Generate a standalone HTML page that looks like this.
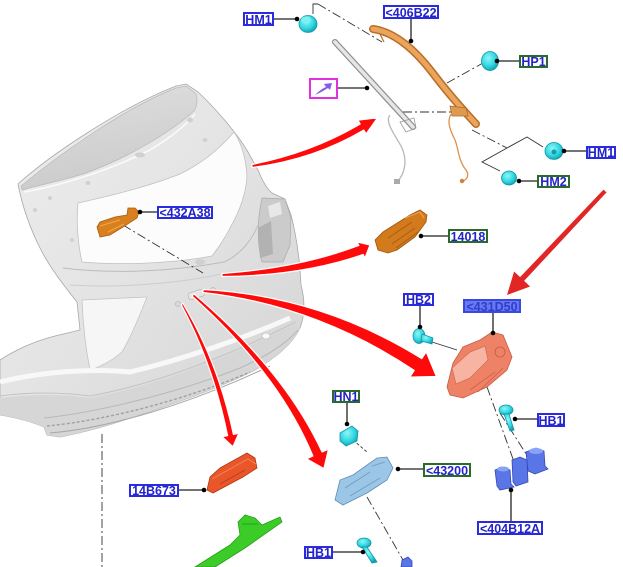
<!DOCTYPE html>
<html><head><meta charset="utf-8"><style>
html,body{margin:0;padding:0;background:#fff;}
svg{display:block;}
text{font-family:"Liberation Sans",Arial,sans-serif;font-weight:bold;font-size:12.5px;fill:#2323c8;text-anchor:middle;}
</style></head><body>
<svg width="623" height="567" viewBox="0 0 623 567" xmlns="http://www.w3.org/2000/svg">
<defs>
<linearGradient id="gBody" x1="0" y1="0" x2="1" y2="1">
<stop offset="0" stop-color="#eeeeee"/><stop offset="0.5" stop-color="#e3e3e3"/><stop offset="1" stop-color="#d3d3d3"/>
</linearGradient>
<linearGradient id="gGlass" x1="0" y1="0" x2="0.3" y2="1">
<stop offset="0" stop-color="#e0e0e0"/><stop offset="1" stop-color="#cbcbcb"/>
</linearGradient>
<radialGradient id="gCy" cx="0.4" cy="0.35" r="0.7">
<stop offset="0" stop-color="#8ff6f6"/><stop offset="0.6" stop-color="#2fd6e0"/><stop offset="1" stop-color="#129aaa"/>
</radialGradient>
</defs>

<!-- ===== CAR BODY ===== -->
<path d="M18,184 C50,155 120,108 176,86 L186,84 L198,92 C212,105 235,130 248,152 L258,170 C262,180 266,188 272,193 L285,199 L291,215 C297,238 300,265 301,285 C305,300 305,315 300,328 C292,345 275,358 255,370 C215,390 170,405 130,418 C105,427 80,433 60,437 L47,435 L44,427 C30,421 12,417 0,415 L0,360 C15,350 35,341 55,336 L80,330 L77,302 C65,287 50,268 40,248 C30,228 22,205 18,184 Z" fill="url(#gBody)" stroke="#a8a8a8" stroke-width="0.8"/>
<!-- lower bumper darker band -->
<path d="M0,398 C30,394 60,394 90,398 C150,387 220,362 296,324 L300,328 C292,345 275,358 255,370 C215,390 170,405 130,418 C105,427 80,433 60,437 L47,435 L44,427 C30,421 12,417 0,415 Z" fill="#d6d6d6"/>
<!-- glass -->
<path d="M21,186 C52,160 120,110 176,88 L186,86 L196,94 C198,100 197,107 194,111 C168,134 128,158 83,174 C60,181 40,185 22,190 Z" fill="url(#gGlass)" stroke="#b8b8b8" stroke-width="0.7"/>
<path d="M24,192 C60,186 110,170 150,150 C170,138 185,126 195,114" fill="none" stroke="#fafafa" stroke-width="1.6"/>
<!-- window opening -->
<path d="M78,203 C110,196 150,186 180,174 C205,162 222,146 234,132 C241,142 246,158 247,176 C246,196 238,214 230,228 C224,240 218,248 212,256 C180,262 130,266 82,262 C78,245 76,222 78,203 Z" fill="#fcfcfc" stroke="#c0c0c0" stroke-width="0.8"/>
<!-- frame bumps -->
<g fill="#d0d0d0">
<ellipse cx="190" cy="120" rx="3" ry="2.5"/><ellipse cx="205" cy="140" rx="2.5" ry="2"/><ellipse cx="140" cy="155" rx="5" ry="2.5"/>
<ellipse cx="88" cy="183" rx="2.5" ry="2"/><ellipse cx="50" cy="198" rx="2" ry="2"/><ellipse cx="35" cy="210" rx="2" ry="2"/>
<ellipse cx="72" cy="240" rx="2" ry="2"/><ellipse cx="200" cy="262" rx="5" ry="3"/>
</g>
<!-- crease lines -->
<path d="M63,268 C110,274 170,272 224,262 C240,255 252,240 258,225" fill="none" stroke="#bcbcbc" stroke-width="1"/>
<path d="M70,285 C120,288 180,284 230,272" fill="none" stroke="#cdcdcd" stroke-width="1"/>
<!-- recess -->
<path d="M82,300 L147,297 C140,315 132,335 122,352 C110,362 98,368 90,370 C86,350 83,325 82,300 Z" fill="#f6f6f6" stroke="#c4c4c4" stroke-width="0.8"/>
<!-- taillight -->
<path d="M262,198 L285,199 L291,218 L290,245 L283,262 L262,262 C257,245 257,220 262,198 Z" fill="#cbcbcb" stroke="#aaaaaa" stroke-width="0.7"/>
<path d="M258,228 L271,221 L273,254 L260,258 Z" fill="#b2b2b2"/>
<path d="M268,206 L280,202 L282,214 L270,218 Z" fill="#e8e8e8"/>
<!-- bumper details -->
<path d="M0,382 C40,372 90,368 130,372 C180,360 240,340 290,318" fill="none" stroke="#f8f8f8" stroke-width="5"/>
<path d="M0,396 C30,392 60,392 90,396 C150,385 220,360 296,322" fill="none" stroke="#c4c4c4" stroke-width="1"/>
<path d="M44,418 C100,412 180,392 240,368 C265,357 285,345 298,330" fill="none" stroke="#b8b8b8" stroke-width="1"/>
<path d="M47,426 C110,420 190,398 250,372" fill="none" stroke="#a0a0a0" stroke-width="1.4" stroke-dasharray="3 2"/>
<path d="M50,433 C110,428 190,404 270,366" fill="none" stroke="#a8a8a8" stroke-width="1"/>
<ellipse cx="266" cy="336" rx="4" ry="3" fill="#fafafa" stroke="#bbb" stroke-width="0.6"/>
<ellipse cx="178" cy="304" rx="3" ry="2.5" fill="#d8d8d8" stroke="#aaa" stroke-width="0.5"/>
<ellipse cx="213" cy="290" rx="3" ry="2.5" fill="#d8d8d8" stroke="#aaa" stroke-width="0.5"/>
<rect x="188" y="291" width="16" height="7" rx="2" fill="#e6e6e6" stroke="#aaa" stroke-width="0.5" transform="rotate(-18 196 294)"/>

<!-- ===== DASHED CONNECTORS ===== -->
<g fill="none" stroke="#333" stroke-width="0.9" stroke-dasharray="9 3 2 3">
<path d="M102,434 L102,567"/>
<path d="M123,225 L203,273"/>
<path d="M318,4 L382,42"/>
<path d="M447,83 L483,63"/>
<path d="M403,112 L453,112"/>
<path d="M472,130 L507,148"/>
<path d="M487,387 L517,470"/>
<path d="M500,413 L530,460"/>
<path d="M367,497 L403,560"/>
</g>
<g fill="none" stroke="#333" stroke-width="0.9">
<path d="M313,14 L313,4 L318,4"/>
<path d="M507,148 L527,137 L543,147"/>
<path d="M507,148 L482,162 L500,171"/>
<path d="M432,342 L457,350"/>
<path d="M353,440 L367,452" stroke-dasharray="3 2"/>
</g>

<!-- ===== PARTS ===== -->
<!-- gray rod -->
<path d="M335,42 L413,127" stroke="#8e8e8e" stroke-width="6" stroke-linecap="round"/>
<path d="M335,42 L413,127" stroke="#e6e6e6" stroke-width="3.6" stroke-linecap="round"/>
<path d="M390,115 C384,122 396,136 402,148 C408,162 404,175 397,182" fill="none" stroke="#b8b8b8" stroke-width="1.3"/>
<rect x="394" y="179" width="6" height="5" fill="#aaa"/>
<path d="M400,122 L414,118 L416,128 L406,132 Z" fill="none" stroke="#999" stroke-width="0.8"/>
<!-- orange bar 406B22 -->
<path d="M373,29 C395,32 415,50 432,72 C450,96 465,112 476,124" fill="none" stroke="#b86e28" stroke-width="8" stroke-linecap="round"/>
<path d="M373,29 C395,32 415,50 432,72 C450,96 465,112 476,124" fill="none" stroke="#eaa45c" stroke-width="5" stroke-linecap="round"/>
<path d="M380,34 L384,42" stroke="#b86e28" stroke-width="1.2"/>
<path d="M450,106 L466,108 L468,116 L452,116 Z" fill="#e09a50" stroke="#b06a28" stroke-width="0.8"/>
<path d="M452,113 C446,120 450,130 455,140 C459,150 458,160 466,170 C470,176 466,180 463,181" fill="none" stroke="#e0904a" stroke-width="1.3"/>
<circle cx="462" cy="181" r="2.2" fill="#d0803a"/>
<!-- cyan fasteners -->
<g stroke="#1196a6" stroke-width="0.8" fill="url(#gCy)">
<ellipse cx="308" cy="24" rx="9" ry="8.5"/>
<ellipse cx="490" cy="61" rx="8.5" ry="9.5"/>
<ellipse cx="554" cy="151" rx="9" ry="8.5"/>
<ellipse cx="509" cy="178" rx="7.5" ry="7"/>
<ellipse cx="419" cy="336" rx="6" ry="7.5"/>
<path d="M422,334 L433,338 L432,344 L421,341 Z"/>
<path d="M340,433 L352,426 L358,431 L357,441 L346,446 L340,441 Z"/>
<ellipse cx="506" cy="410" rx="7" ry="5"/>
<path d="M504,414 L509,414 L514,430 L510,431 Z"/>
<ellipse cx="364" cy="543" rx="7" ry="5"/>
<path d="M362,547 L367,547 L377,562 L372,563 Z"/>
</g>
<ellipse cx="306" cy="20" rx="5" ry="3.5" fill="#7ff0f0"/>
<circle cx="554" cy="152" r="2.5" fill="#1a9aa8"/>
<!-- 432A38 -->
<path d="M97,227 L100,222 L115,217 L127,215 L128,208 L135,208 L139,212 L137,218 L123,227 L110,235 L100,237 Z" fill="#d8801e" stroke="#a85c10" stroke-width="0.8"/>
<path d="M100,226 L120,220 M108,232 L124,224" stroke="#f0a848" stroke-width="1"/>
<!-- 14018 -->
<path d="M375,240 L383,232 L410,215 L420,210 L427,215 L426,222 L415,237 L397,250 L388,253 L378,250 Z" fill="#d27a1c" stroke="#9c560e" stroke-width="0.8"/>
<path d="M388,238 L412,222 M392,244 L415,228 M396,248 L418,232" stroke="#a85e12" stroke-width="1"/>
<path d="M405,218 L420,212 L424,218" fill="none" stroke="#eea050" stroke-width="1.2"/>
<!-- 431D50 salmon -->
<path d="M447,387 L453,363 L463,347 L480,340 L492,332 L503,335 L512,357 L507,370 L487,387 L463,398 L450,395 Z" fill="#ee8266" stroke="#c85a42" stroke-width="0.8"/>
<path d="M452,368 L470,352 L485,346 L488,360 L470,378 L456,384 Z" fill="#f8b4a2" stroke="#d06a52" stroke-width="0.7"/>
<circle cx="500" cy="352" r="5" fill="none" stroke="#c85a42" stroke-width="0.8"/>
<path d="M470,390 L495,372 M478,392 L503,368" stroke="#d06048" stroke-width="0.8"/>
<!-- 404B12A blue -->
<g fill="#5a76e6" stroke="#3448b8" stroke-width="0.8">
<path d="M495,470 L503,467 L510,470 L511,484 L514,487 L500,490 L497,486 Z"/>
<path d="M512,460 L520,457 L527,460 L528,482 L516,486 L513,482 Z"/>
<path d="M526,452 L536,448 L544,451 L545,466 L548,469 L535,474 L528,471 Z"/>
</g>
<ellipse cx="503" cy="469" rx="6" ry="2.5" fill="#8aa2f6"/>
<ellipse cx="536" cy="451" rx="7" ry="3" fill="#8aa2f6"/>
<!-- 43200 light blue -->
<path d="M335,500 L340,480 L353,475 L377,458 L387,457 L393,468 L387,480 L367,493 L343,505 Z" fill="#9cc6e6" stroke="#5e8eb4" stroke-width="0.8"/>
<path d="M345,488 L370,472 M350,496 L380,478 M372,466 L385,462" stroke="#6e9cc2" stroke-width="0.8"/>
<!-- 14B673 -->
<path d="M207,490 L210,477 L220,468 L247,453 L255,458 L257,468 L243,477 L213,493 Z" fill="#e8562a" stroke="#b23c14" stroke-width="0.8"/>
<path d="M212,479 L248,459 L256,464" fill="none" stroke="#f5825a" stroke-width="1"/>
<path d="M220,484 L245,470" stroke="#b84018" stroke-width="1"/>
<!-- green part -->
<path d="M195,567 L230,545 L240,535 L238,522 L245,515 L255,518 L262,525 L280,517 L282,522 L245,548 L215,567 Z" fill="#3ccc28" stroke="#24a018" stroke-width="0.8"/>
<path d="M242,524 L258,524" stroke="#24a018" stroke-width="1"/>
<!-- small blue bottom -->
<path d="M401,567 L402,560 L408,557 L412,561 L412,567 Z" fill="#5a76e6" stroke="#3448b8" stroke-width="0.8"/>

<!-- ===== RED ARROWS ===== -->
<g fill="#ff0a0a" stroke="#ffffff" stroke-width="1.2" stroke-linejoin="round">
<path d="M251.8,164.5 Q312,152.5 360.2,124 L357.9,120.1 L377.5,117.8 L366.1,133.9 L363.8,130 Q314,159.5 252.2,167.5 Z"/>
<path d="M222,273.5 Q299,268 358.9,245.5 L357.1,241.9 L370,245 L364.9,258.1 L363.2,254.5 Q301,276 222,276.5 Z"/>
<path d="M203.3,289.5 Q321,296 421.8,358.6 L426.2,351.9 L436.4,376.5 L409.8,377.1 L414.2,370.4 Q316,305 202.7,292.5 Z"/>
<path d="M194,293.9 Q284,370 322.1,452 L328.5,449.2 L323.9,468.7 L306.5,458.8 L312.9,456 Q279,374 192,296.1 Z"/>
<path d="M182.9,303.5 Q218,362 233.4,434.4 L238.8,433.3 L232.9,446.8 L222.2,436.7 L227.6,435.6 Q213,364 181.1,304.5 Z"/>
</g>
<path d="M603.5,189.6 L520.1,277.1 L514.1,271.5 L507,295 L530.1,286.5 L524.1,280.9 L606.5,192.4 Z" fill="#e22626"/>

<!-- ===== LEADERS ===== -->
<g stroke="#222" stroke-width="1.3" fill="none">
<path d="M274,19 L297,19"/><path d="M411,18 L411,41"/><path d="M519,61 L497,61"/>
<path d="M338,88 L367,88"/><path d="M586,151 L564,151"/><path d="M537,181 L519,181"/>
<path d="M157,212 L140,212"/><path d="M448,236 L421,236"/><path d="M420,305 L420,327"/>
<path d="M493,313 L493,333"/><path d="M347,403 L347,424"/><path d="M537,419 L515,419"/>
<path d="M423,469 L398,469"/><path d="M179,490 L204,490"/><path d="M511,521 L511,490"/>
<path d="M333,552 L363,552"/>
</g>
<g fill="#000">
<circle cx="297" cy="19" r="2.3"/><circle cx="411" cy="41" r="2.3"/><circle cx="497" cy="61" r="2.3"/>
<circle cx="367" cy="88" r="2.3"/><circle cx="564" cy="151" r="2.3"/><circle cx="519" cy="181" r="2.3"/>
<circle cx="140" cy="212" r="2.3"/><circle cx="421" cy="236" r="2.3"/><circle cx="420" cy="327" r="2.3"/>
<circle cx="493" cy="333" r="2.3"/><circle cx="347" cy="424" r="2.3"/><circle cx="515" cy="419" r="2.3"/>
<circle cx="398" cy="469" r="2.3"/><circle cx="204" cy="490" r="2.3"/><circle cx="511" cy="490" r="2.3"/>
<circle cx="363" cy="552" r="2.3"/>
</g>

<!-- ===== LABELS ===== -->
<g fill="#fff" stroke-width="2">
<rect x="244" y="13" width="29" height="12" stroke="#2a2ae0"/>
<rect x="384" y="6" width="54" height="12" stroke="#2a2ae0"/>
<rect x="520" y="56" width="27" height="11" stroke="#2a6a2a"/>
<rect x="587" y="147" width="28" height="11" stroke="#2a2ae0"/>
<rect x="538" y="176" width="31" height="11" stroke="#2a6a2a"/>
<rect x="158" y="207" width="54" height="11" stroke="#2a2ae0"/>
<rect x="449" y="230" width="38" height="12" stroke="#2a6a2a"/>
<rect x="404" y="294" width="29" height="11" stroke="#2a2ae0"/>
<rect x="464" y="300" width="56" height="12" stroke="#3a48e0" fill="#6a78f0"/>
<rect x="333" y="391" width="26" height="11" stroke="#2a6a2a"/>
<rect x="538" y="414" width="26" height="12" stroke="#2a2ae0"/>
<rect x="424" y="464" width="46" height="12" stroke="#2a6a2a"/>
<rect x="130" y="485" width="48" height="11" stroke="#2a2ae0"/>
<rect x="478" y="522" width="64" height="12" stroke="#2a2ae0"/>
<rect x="305" y="547" width="27" height="11" stroke="#2a2ae0"/>
<rect x="310" y="79" width="27" height="19" stroke="#e030e0"/>
</g>
<path d="M315,95 Q321,89 326,87 L324,84 L332,83 L330,90 L328,88 Q322,92 315,95 Z" fill="#8a5ae8"/>
<text x="258.5" y="24">HM1</text>
<text x="411" y="17">&lt;406B22</text>
<text x="533.5" y="66">HP1</text>
<text x="601" y="157">HM1</text>
<text x="553.5" y="186">HM2</text>
<text x="185" y="217">&lt;432A38</text>
<text x="468" y="241">14018</text>
<text x="418.5" y="304">HB2</text>
<text x="492" y="311" style="fill:#2e3ed0">&lt;431D50</text>
<text x="346" y="401">HN1</text>
<text x="551" y="425">HB1</text>
<text x="447" y="475">&lt;43200</text>
<text x="154" y="495">14B673</text>
<text x="510" y="533">&lt;404B12A</text>
<text x="318.5" y="557">HB1</text>
</svg>
</body></html>
